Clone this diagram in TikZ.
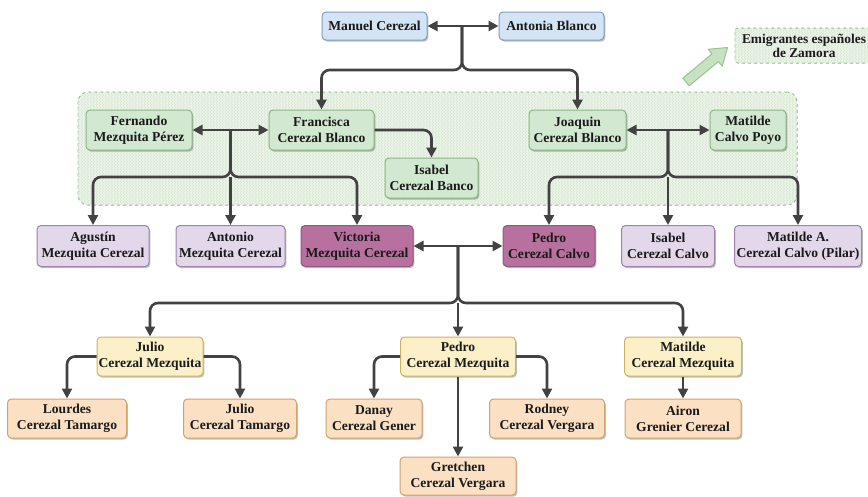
\documentclass[tikz,border=0pt]{standalone}
\usepackage{fontspec}
\setmainfont{Liberation Serif}
\usetikzlibrary{arrows.meta,shadows,patterns}
\definecolor{txt}{HTML}{1A1A1A}
\definecolor{lnk}{HTML}{424242}
\definecolor{bfill}{HTML}{D4E4F4}
\definecolor{bdraw}{HTML}{7F9DBF}
\definecolor{gfill}{HTML}{D3E8D0}
\definecolor{gdraw}{HTML}{8DB485}
\definecolor{pfill}{HTML}{E3D7EA}
\definecolor{pdraw}{HTML}{9D83AD}
\definecolor{mfill}{HTML}{B8719F}
\definecolor{mdraw}{HTML}{8A5A7F}
\definecolor{yfill}{HTML}{FCF0C8}
\definecolor{ydraw}{HTML}{CDB36A}
\definecolor{ofill}{HTML}{FBE0C4}
\definecolor{odraw}{HTML}{D2A46A}
\definecolor{grpfill}{HTML}{EDF5EA}
\definecolor{grphatch}{HTML}{D7E8D2}
\definecolor{grpdraw}{HTML}{92B98B}
\definecolor{arfill}{HTML}{C6E2C0}
\definecolor{ardraw}{HTML}{9CC293}
\tikzset{
  person/.style={rounded corners=4pt, line width=1pt, align=center, inner sep=0pt,
    minimum height=40pt, text=txt,
    font=\fontsize{13.6}{16}\selectfont\bfseries,
    drop shadow={shadow xshift=1.3pt, shadow yshift=-1.6pt, opacity=0.25, fill=black}},
  bluebox/.style={person, fill=bfill, draw=bdraw},
  greenbox/.style={person, fill=gfill, draw=gdraw},
  lilacbox/.style={person, fill=pfill, draw=pdraw},
  plumbox/.style={person, fill=mfill, draw=mdraw},
  yellowbox/.style={person, fill=yfill, draw=ydraw},
  peachbox/.style={person, fill=ofill, draw=odraw},
  grpbox/.style={rounded corners=10pt, draw=grpdraw, fill=grpfill, dashed, line width=1pt, inner sep=0pt,
    postaction={pattern=north east lines, pattern color=grphatch},
    postaction={pattern=north west lines, pattern color=grphatch}},
  conn/.style={draw=lnk, line width=2.6pt, rounded corners=8pt, -{Triangle[length=10pt,width=10pt]}},
  dconn/.style={draw=lnk, line width=2.6pt, {Triangle[length=10pt,width=10pt]}-{Triangle[length=10pt,width=10pt]}},
}
\begin{document}
\begin{tikzpicture}[x=1pt,y=-1pt]
\useasboundingbox (0,0) rectangle (868,496);
\fill[white] (0,0) rectangle (868,496);

% group backgrounds
\node[grpbox, minimum width=719pt, minimum height=113pt] (grp) at (437.5,148.5) {};
\node[grpbox, rounded corners=3pt, minimum width=138pt, minimum height=35pt,
      align=center, text=txt, font=\fontsize{13.4}{14}\selectfont\bfseries] (emig) at (804,45.5)
      {Emigrantes españoles\\de Zamora};
% block arrow
\begin{scope}[shift={(686,82)}, rotate=39.7]
  \draw[draw=ardraw, fill=arfill, line width=1pt, line join=round]
    (0,-5) -- (38,-5) -- (38,-11) -- (54,0) -- (38,11) -- (38,5) -- (0,5) -- cycle;
\end{scope}

% row 1
\node[bluebox, minimum width=105pt, minimum height=28pt] (manuel) at (374.5,26) {Manuel Cerezal};
\node[bluebox, minimum width=105pt, minimum height=28pt] (antonia) at (551.5,26) {Antonia Blanco};

% row 2
\node[greenbox, minimum width=106pt] (fernando) at (139,130) {Fernando\\Mezquita Pérez};
\node[greenbox, minimum width=105pt] (francisca) at (321.5,130) {Francisca\\Cerezal Blanco};
\node[greenbox, minimum width=93pt] (isabelcb) at (431.5,178) {Isabel\\Cerezal Banco};
\node[greenbox, minimum width=97pt] (joaquin) at (577.5,130) {Joaquin\\Cerezal Blanco};
\node[greenbox, minimum width=76pt] (matildecp) at (748,130) {Matilde\\Calvo Poyo};

% row 3
\node[lilacbox, minimum width=112pt, minimum height=41pt] (agustin) at (93,246) {Agustín\\Mezquita Cerezal};
\node[lilacbox, minimum width=109pt, minimum height=41pt] (antonio) at (230.5,246) {Antonio\\Mezquita Cerezal};
\node[plumbox, minimum width=112pt, minimum height=41pt] (victoria) at (357,246) {Victoria\\Mezquita Cerezal};
\node[plumbox, minimum width=92pt, minimum height=41pt] (pedrocc) at (549,246) {Pedro\\Cerezal Calvo};
\node[lilacbox, minimum width=93pt, minimum height=41pt] (isabelcc) at (668,246) {Isabel\\Cerezal Calvo};
\node[lilacbox, minimum width=127pt, minimum height=41pt] (matildea) at (798,246) {Matilde A.\\Cerezal Calvo (Pilar)};

% row 4
\node[yellowbox, minimum width=106pt, minimum height=39pt] (juliocm) at (150,356.5) {Julio\\Cerezal Mezquita};
\node[yellowbox, minimum width=115pt, minimum height=39pt] (pedrocm) at (458,356.5) {Pedro\\Cerezal Mezquita};
\node[yellowbox, minimum width=117pt, minimum height=39pt] (matildecm) at (683,356.5) {Matilde\\Cerezal Mezquita};

% row 5
\node[peachbox, minimum width=119pt, minimum height=39pt] (lourdes) at (67,418.5) {Lourdes\\Cerezal Tamargo};
\node[peachbox, minimum width=113pt, minimum height=39pt] (juliect) at (240,418.5) {Julio\\Cerezal Tamargo};
\node[peachbox, minimum width=96pt, minimum height=39pt] (danay) at (374,418.5) {Danay\\Cerezal Gener};
\node[peachbox, minimum width=115pt, minimum height=39pt] (rodney) at (547,418.5) {Rodney\\Cerezal Vergara};
\node[peachbox, minimum width=116pt, minimum height=39pt] (airon) at (683,418.5) {Airon\\Grenier Cerezal};
\node[peachbox, minimum width=116pt, minimum height=38pt] (gretchen) at (458,476) {Gretchen\\Cerezal Vergara};

% junction coordinates
\coordinate (jA) at (462,26);
\coordinate (jAd) at (462,70);
\coordinate (jB) at (230.5,130);
\coordinate (jBd) at (230.5,177);
\coordinate (jC) at (668,130);
\coordinate (jCd) at (668,177);
\coordinate (jD) at (458,246);
\coordinate (jDd) at (458,303);

% connectors
\draw[dconn] (manuel.east) -- (antonia.west);
\draw[conn] (jA) -- (jAd) -| (francisca.north);
\draw[conn] (jA) -- (jAd) -| (joaquin.north);

\draw[dconn] (fernando.east) -- (francisca.west);
\draw[conn] (francisca.east) -| (isabelcb.north);
\draw[conn] (jB) -- (jBd) -| (agustin.north);
\draw[conn] (jB) -- (jBd) -| (victoria.north);
\draw[conn] (jBd) -- (antonio.north);

\draw[dconn] (joaquin.east) -- (matildecp.west);
\draw[conn] (jC) -- (jCd) -| (pedrocc.north);
\draw[conn] (jC) -- (jCd) -| (matildea.north);
\draw[conn] (jCd) -- (isabelcc.north);

\draw[dconn] (victoria.east) -- (pedrocc.west);
\draw[conn] (jD) -- (jDd) -| (juliocm.north);
\draw[conn] (jD) -- (jDd) -| (matildecm.north);
\draw[conn] (jDd) -- (pedrocm.north);

\draw[conn] (juliocm.west) -| (lourdes.north);
\draw[conn] (juliocm.east) -| (juliect.north);
\draw[conn] (pedrocm.west) -| (danay.north);
\draw[conn] (pedrocm.east) -| (rodney.north);
\draw[conn] (pedrocm.south) -- (gretchen.north);
\draw[conn] (matildecm.south) -- (airon.north);
\end{tikzpicture}
\end{document}
